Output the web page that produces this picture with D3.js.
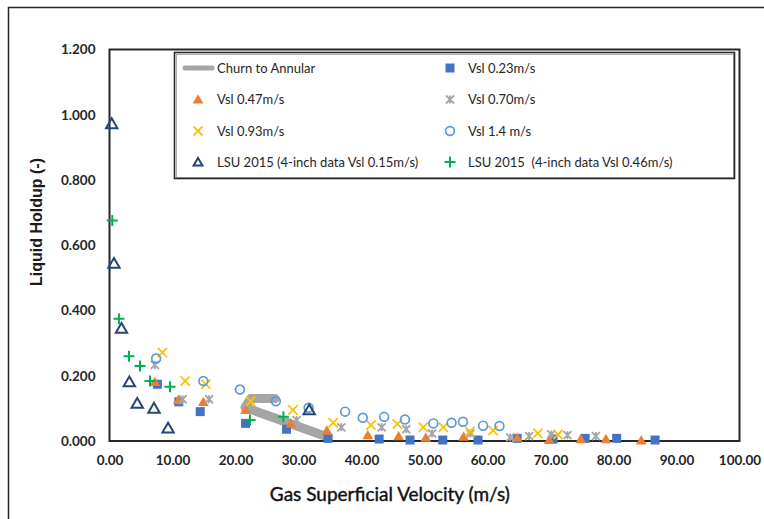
<!DOCTYPE html>
<html>
<head>
<meta charset="utf-8">
<script src="https://cdn.jsdelivr.net/npm/d3@7"></script>
<style>
  html, body { margin: 0; padding: 0; background: #fff; }
  svg { display: block; }
</style>
</head>
<body>
<svg id="chart" width="764" height="519"></svg>
<script>
// Liquid holdup vs gas superficial velocity

const xTicks = [0, 10, 20, 30, 40, 50, 60, 70, 80, 90, 100];
const yTicks = [0, 0.2, 0.4, 0.6, 0.8, 1.0, 1.2];

// Churn-to-annular transition band
const churnX = [26.3, 22.4, 21.5, 34.4];
const churnY = [0.130, 0.130, 0.103, 0.014];

// Vsl 0.23 m/s
const vsl023X = [7.6, 11.0, 14.4, 21.6, 28.1, 34.7, 42.8, 47.7, 52.9, 58.5, 64.7, 70.4, 75.5, 80.5, 86.6];
const vsl023Y = [0.174, 0.120, 0.090, 0.054, 0.036, 0.008, 0.006, 0.003, 0.003, 0.003, 0.008, 0.006, 0.008, 0.008, 0.003];

// Vsl 0.47 m/s
const vsl047X = [7.2, 10.9, 14.9, 21.6, 28.8, 34.5, 41.0, 45.9, 50.2, 56.2, 64.7, 69.8, 74.8, 78.8, 84.4];
const vsl047Y = [0.181, 0.125, 0.120, 0.095, 0.054, 0.032, 0.018, 0.015, 0.010, 0.013, 0.010, 0.003, 0.006, 0.006, 0.002];

// Vsl 0.70 m/s
const vsl070X = [7.2, 11.6, 15.8, 29.7, 36.8, 43.2, 47.1, 51.2, 57.3, 63.6, 66.6, 70.1, 72.7, 77.2];
const vsl070Y = [0.233, 0.128, 0.128, 0.064, 0.042, 0.042, 0.036, 0.023, 0.023, 0.011, 0.015, 0.020, 0.018, 0.015];

// Vsl 0.93 m/s
const vsl093X = [8.4, 12.0, 15.3, 22.4, 29.1, 35.5, 41.5, 45.7, 49.8, 53.0, 57.2, 60.9, 68.0, 71.2];
const vsl093Y = [0.271, 0.184, 0.174, 0.122, 0.095, 0.056, 0.049, 0.052, 0.042, 0.042, 0.029, 0.032, 0.024, 0.020];

// Vsl 1.4 m/s
const vsl14X = [7.4, 14.9, 20.7, 26.4, 31.6, 37.4, 40.2, 43.6, 46.9, 51.4, 54.3, 56.1, 59.3, 61.9];
const vsl14Y = [0.253, 0.184, 0.158, 0.122, 0.102, 0.090, 0.071, 0.074, 0.066, 0.054, 0.056, 0.059, 0.047, 0.046];

// LSU 2015, 4-inch, Vsl 0.15 m/s
const lsu015X = [0.35, 0.71, 1.9, 3.15, 4.4, 7.06, 9.3, 31.7];
const lsu015Y = [0.972, 0.544, 0.345, 0.181, 0.115, 0.100, 0.039, 0.095];

// LSU 2015, 4-inch, Vsl 0.46 m/s
const lsu046X = [0.44, 1.5, 3.1, 4.84, 6.43, 9.6, 22.3, 27.6];
const lsu046Y = [0.676, 0.375, 0.260, 0.230, 0.184, 0.166, 0.064, 0.074];

const legendLabels = [
  "Churn to Annular", "Vsl 0.23m/s",
  "Vsl 0.47m/s", "Vsl 0.70m/s",
  "Vsl 0.93m/s", "Vsl 1.4 m/s",
  "LSU 2015 (4-inch data Vsl 0.15m/s)", "LSU 2015  (4-inch data Vsl 0.46m/s)"
];

const svg = d3.select("#chart");
const plot = { left: 109.5, right: 739.5, top: 49.5, bottom: 441 };

const x = d3.scaleLinear().domain([0, 100]).range([plot.left, plot.right]);
const y = d3.scaleLinear().domain([0, 1.2]).range([plot.bottom, plot.top]);

// outer frame
svg.append("rect")
  .attr("x", 8.5).attr("y", 7.5).attr("width", 800).attr("height", 600)
  .attr("fill", "none").attr("stroke", "#262626").attr("stroke-width", 1.5);

const tickFont = "Lato, 'Open Sans', sans-serif";

// axes (labels only, no tick marks)
const xAxis = d3.axisBottom(x).tickValues(xTicks).tickSize(0).tickPadding(14)
  .tickFormat(d3.format(".2f"));
const yAxis = d3.axisLeft(y).tickValues(yTicks).tickSize(0).tickPadding(14)
  .tickFormat(d3.format(".3f"));

const gx = svg.append("g").attr("transform", `translate(0,${plot.bottom})`).call(xAxis);
const gy = svg.append("g").attr("transform", `translate(${plot.left},0)`).call(yAxis);
[gx, gy].forEach(g => {
  g.select(".domain").remove();
  g.selectAll("text").attr("font-family", tickFont).attr("font-size", 13.5)
    .attr("font-weight", 700).attr("fill", "#262626");
});

// plot area border
svg.append("rect")
  .attr("x", plot.left).attr("y", plot.top)
  .attr("width", plot.right - plot.left).attr("height", plot.bottom - plot.top)
  .attr("fill", "none").attr("stroke", "#262626").attr("stroke-width", 2);

// axis titles
svg.append("text")
  .attr("x", x(44.5)).attr("y", 501)
  .attr("text-anchor", "middle")
  .attr("font-family", tickFont).attr("font-size", 19).attr("font-weight", 400)
  .attr("fill", "#111").attr("stroke", "#111").attr("stroke-width", 0.4)
  .text("Gas Superficial Velocity (m/s)");

svg.append("text")
  .attr("transform", "translate(42,222) rotate(-90)")
  .attr("text-anchor", "middle")
  .attr("font-family", "'Liberation Sans', Arial, sans-serif").attr("font-size", 16).attr("font-weight", 700)
  .attr("fill", "#1a1a1a")
  .text("Liquid Holdup (-)");

// marker painters
const C = {
  churn: "#a5a5a5", sq: "#4472c4", tri: "#ed7d31", ast: "#a5a5a5",
  xx: "#ffc000", cir: "#5b9bd5", nav: "#264478", plus: "#00b050"
};

function drawSquare(g, cx, cy) {
  g.append("path").attr("d", d3.symbol(d3.symbolSquare, 81)())
    .attr("transform", `translate(${cx},${cy})`).attr("fill", C.sq);
}
function drawTri(g, cx, cy) {
  g.append("path").attr("d", d3.symbol(d3.symbolTriangle, 50)())
    .attr("transform", `translate(${cx},${cy + 1})`).attr("fill", C.tri);
}
function drawAst(g, cx, cy) {
  const r = 4;
  g.append("path")
    .attr("d", `M${-r},${-r}L${r},${r}M${-r},${r}L${r},${-r}M0,${-r}L0,${r}`)
    .attr("transform", `translate(${cx},${cy})`)
    .attr("stroke", C.ast).attr("stroke-width", 1.8).attr("fill", "none");
}
function drawX(g, cx, cy) {
  const r = 4.6;
  g.append("path")
    .attr("d", `M${-r},${-r}L${r},${r}M${-r},${r}L${r},${-r}`)
    .attr("transform", `translate(${cx},${cy})`)
    .attr("stroke", C.xx).attr("stroke-width", 1.8).attr("fill", "none");
}
function drawCircle(g, cx, cy) {
  g.append("circle").attr("cx", cx).attr("cy", cy).attr("r", 4.4)
    .attr("fill", "none").attr("stroke", C.cir).attr("stroke-width", 1.7);
}
function drawNavyTri(g, cx, cy, size) {
  g.append("path").attr("d", d3.symbol(d3.symbolTriangle, size || 56)())
    .attr("transform", `translate(${cx},${cy + 1})`)
    .attr("fill", "none").attr("stroke", C.nav).attr("stroke-width", 2)
    .attr("stroke-linejoin", "miter");
}
function drawPlus(g, cx, cy) {
  const r = 5.5;
  g.append("path")
    .attr("d", `M${-r},0L${r},0M0,${-r}L0,${r}`)
    .attr("transform", `translate(${cx},${cy})`)
    .attr("stroke", C.plus).attr("stroke-width", 2).attr("fill", "none");
}

const marks = svg.append("g");

// churn-to-annular band
marks.append("path")
  .datum(d3.zip(churnX, churnY))
  .attr("d", d3.line().x(d => x(d[0])).y(d => y(d[1])))
  .attr("fill", "none").attr("stroke", C.churn).attr("stroke-width", 9)
  .attr("stroke-linecap", "round").attr("stroke-linejoin", "round");

const seriesList = [
  [vsl023X, vsl023Y, drawSquare],
  [vsl047X, vsl047Y, drawTri],
  [vsl070X, vsl070Y, drawAst],
  [vsl093X, vsl093Y, drawX],
  [vsl14X, vsl14Y, drawCircle],
  [lsu015X, lsu015Y, drawNavyTri],
  [lsu046X, lsu046Y, drawPlus]
];
seriesList.forEach(([xs, ys, painter]) => {
  const g = marks.append("g");
  xs.forEach((v, i) => painter(g, x(v), y(ys[i])));
});

// legend
const lg = svg.append("g");
lg.append("rect").attr("x", 176.5).attr("y", 54.5).attr("width", 557).attr("height", 123)
  .attr("fill", "none").attr("stroke", "#b0b0b0").attr("stroke-width", 1);
lg.append("rect").attr("x", 174.5).attr("y", 52.5).attr("width", 560).attr("height", 126)
  .attr("fill", "none").attr("stroke", "#262626").attr("stroke-width", 1.6);

const rowsY = [68, 99.5, 131, 162];
const colSym = [198, 450];
const colText = [217, 468];
const painters = [null, drawSquare, drawTri, drawAst, drawX, drawCircle, drawNavyTri, drawPlus];
legendLabels.forEach((label, i) => {
  const row = Math.floor(i / 2), col = i % 2;
  const cy = rowsY[row];
  if (i === 0) {
    lg.append("line").attr("x1", 185).attr("x2", 212).attr("y1", cy).attr("y2", cy)
      .attr("stroke", C.churn).attr("stroke-width", 5).attr("stroke-linecap", "round");
  } else if (i === 6) {
    drawNavyTri(lg, colSym[col], cy, 34);
  } else {
    painters[i](lg, colSym[col], cy);
  }
  lg.append("text").attr("x", colText[col]).attr("y", cy).attr("dy", "0.35em")
    .attr("font-family", tickFont).attr("font-size", 13).attr("fill", "#262626")
    .attr("xml:space", "preserve").style("white-space", "pre")
    .text(label);
});
</script>
</body>
</html>
